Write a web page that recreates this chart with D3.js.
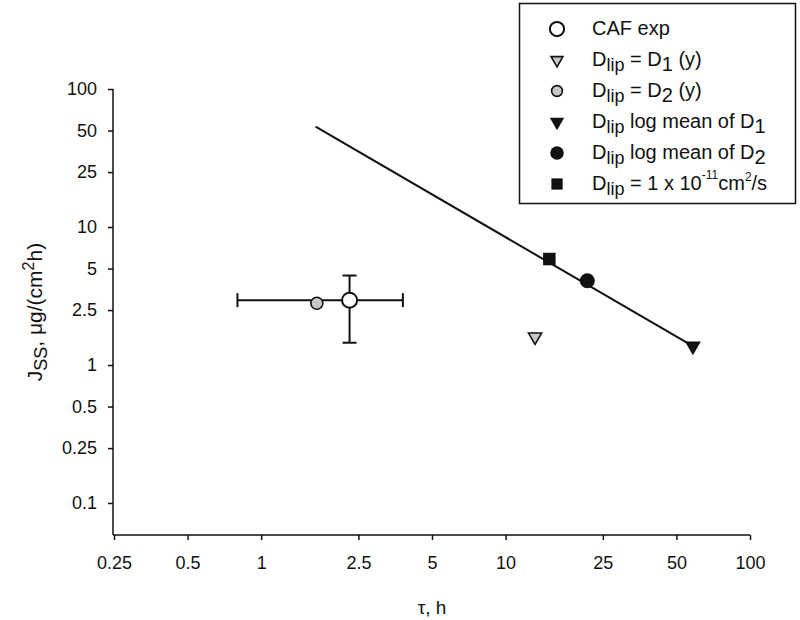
<!DOCTYPE html>
<html>
<head>
<meta charset="utf-8">
<script src="https://cdn.jsdelivr.net/npm/d3@7/dist/d3.min.js"></script>
<style>
  html, body { margin: 0; padding: 0; background: #fff; }
  svg text { font-family: "Liberation Sans", Arial, sans-serif; fill: #111; }
</style>
</head>
<body>
<svg id="chart" width="800" height="620"></svg>
<script>
// ---- data ----
const xTicks = [0.25, 0.5, 1, 2.5, 5, 10, 25, 50, 100];
const yTicks = [0.1, 0.25, 0.5, 1, 2.5, 5, 10, 25, 50, 100];

// CAF experimental point (tau, J) with SD error bars
const cafExp = [{ x: 2.3, y: 2.95, xerr: 1.5, yerr: 1.5 }];
// D_lip = D1 (y)
const d1y = [{ x: 13.2, y: 1.6 }];
// D_lip = D2 (y)
const d2y = [{ x: 1.69, y: 2.8 }];
// D_lip log mean of D1
const d1mean = [{ x: 58.4, y: 1.37 }];
// D_lip log mean of D2
const d2mean = [{ x: 21.6, y: 4.08 }];
// D_lip = 1e-11 cm2/s
const dFixed = [{ x: 15.1, y: 5.86 }];
// fitted line
const lineX = [1.67, 58.4];
const lineY = [53.3, 1.37];

// ---- layout ----
const svg = d3.select("#chart");
const x = d3.scaleLog().domain([0.25, 100]).range([114, 750]);
const y = d3.scaleLog().domain([0.1, 100]).range([503, 89]);
const axisY = 535; // x-axis baseline
const axisX = 113; // y-axis line

const ink = "#111";
const FONT = "Liberation Sans, Arial, sans-serif";

// axes
const gx = svg.append("g").attr("transform", `translate(0,${axisY})`)
  .call(d3.axisBottom(x).tickValues(xTicks).tickFormat(d3.format("")).tickSize(5).tickSizeOuter(0).tickPadding(16));
gx.select(".domain").remove();
gx.append("line").attr("x1", axisX).attr("x2", x(100)).attr("y1", 0).attr("y2", 0)
  .attr("stroke", ink).attr("stroke-width", 1.5);

const gy = svg.append("g").attr("transform", `translate(${axisX},0)`)
  .call(d3.axisLeft(y).tickValues(yTicks).tickFormat(d3.format("")).tickSize(5).tickSizeOuter(0).tickPadding(11));
gy.select(".domain").remove();
gy.append("line").attr("x1", 0).attr("x2", 0).attr("y1", y(100)).attr("y2", axisY)
  .attr("stroke", ink).attr("stroke-width", 1.5);

[gx, gy].forEach(g => {
  g.selectAll(".tick line").attr("stroke", ink).attr("stroke-width", 1.5);
  g.selectAll(".tick text").attr("font-size", 18).attr("fill", ink).attr("font-family", FONT);
});

// axis titles
svg.append("text").attr("x", (x(0.25) + x(100)) / 2).attr("y", 614)
  .attr("text-anchor", "middle").attr("font-size", 19).text("τ, h");

const yt = svg.append("text").attr("transform", `translate(42,${(89 + axisY) / 2}) rotate(-90)`)
  .attr("text-anchor", "middle").attr("font-size", 21);
yt.append("tspan").text("J");
yt.append("tspan").attr("dy", 5).attr("font-size", 18).text("SS");
yt.append("tspan").attr("dy", -5).text(", μg/(cm");
yt.append("tspan").attr("dy", -8).attr("font-size", 16).text("2");
yt.append("tspan").attr("dy", 8).text("h)");

// fitted line
const lineData = lineX.map((v, i) => [v, lineY[i]]);
svg.append("path").datum(lineData)
  .attr("d", d3.line().x(d => x(d[0])).y(d => y(d[1])))
  .attr("fill", "none").attr("stroke", ink).attr("stroke-width", 2);

// error bars
const eb = svg.append("g").attr("stroke", ink).attr("stroke-width", 2);
cafExp.forEach(d => {
  const cx = x(d.x), cy = y(d.y);
  const xl = x(d.x - d.xerr), xr = x(d.x + d.xerr);
  const yt2 = y(d.y + d.yerr), yb = y(d.y - d.yerr);
  eb.append("line").attr("x1", xl).attr("x2", xr).attr("y1", cy).attr("y2", cy);
  eb.append("line").attr("x1", xl).attr("x2", xl).attr("y1", cy - 7).attr("y2", cy + 7);
  eb.append("line").attr("x1", xr).attr("x2", xr).attr("y1", cy - 7).attr("y2", cy + 7);
  eb.append("line").attr("x1", cx).attr("x2", cx).attr("y1", yt2).attr("y2", yb);
  eb.append("line").attr("x1", cx - 7).attr("x2", cx + 7).attr("y1", yt2).attr("y2", yt2);
  eb.append("line").attr("x1", cx - 7).attr("x2", cx + 7).attr("y1", yb).attr("y2", yb);
});

// marker shapes
const tri = d3.symbol().type(d3.symbolTriangle);
function drawMarker(g, kind, cx, cy, scale) {
  scale = scale || 1;
  if (kind === "openCircle") {
    g.append("circle").attr("cx", cx).attr("cy", cy).attr("r", 7.5 * scale)
      .attr("fill", "#fff").attr("stroke", ink).attr("stroke-width", 2);
  } else if (kind === "greyCircle") {
    g.append("circle").attr("cx", cx).attr("cy", cy).attr("r", 6 * scale)
      .attr("fill", "#c8c8c8").attr("stroke", ink).attr("stroke-width", 1.6);
  } else if (kind === "greyTri") {
    g.append("path").attr("d", tri.size(75 * scale * scale)())
      .attr("transform", `translate(${cx},${cy}) rotate(180)`)
      .attr("fill", "#c8c8c8").attr("stroke", ink).attr("stroke-width", 1.6);
  } else if (kind === "blackTri") {
    g.append("path").attr("d", tri.size(110 * scale * scale)())
      .attr("transform", `translate(${cx},${cy}) rotate(180)`)
      .attr("fill", ink);
  } else if (kind === "blackCircle") {
    g.append("circle").attr("cx", cx).attr("cy", cy).attr("r", 7.5 * scale).attr("fill", ink);
  } else if (kind === "blackSquare") {
    const s = 12.5 * scale;
    g.append("rect").attr("x", cx - s / 2).attr("y", cy - s / 2).attr("width", s).attr("height", s).attr("fill", ink);
  }
}

const pts = svg.append("g");
[
  [d1mean, "blackTri"], [d2mean, "blackCircle"], [dFixed, "blackSquare"],
  [d1y, "greyTri"], [d2y, "greyCircle"], [cafExp, "openCircle"]
].forEach(([arr, kind]) => arr.forEach(d => drawMarker(pts, kind, x(d.x), y(d.y))));

// legend
const lg = svg.append("g");
lg.append("rect").attr("x", 519.5).attr("y", 3.5).attr("width", 276).attr("height", 200)
  .attr("fill", "#fff").attr("stroke", ink).attr("stroke-width", 1.5);

const legendItems = [
  { kind: "openCircle", parts: [["CAF exp", 0, 20]] },
  { kind: "greyTri", parts: [["D", 0, 20], ["lip", 5, 18], [" = D", -5, 20], ["1", 5, 20], [" (y)", -5, 20]] },
  { kind: "greyCircle", parts: [["D", 0, 20], ["lip", 5, 18], [" = D", -5, 20], ["2", 5, 20], [" (y)", -5, 20]] },
  { kind: "blackTri", parts: [["D", 0, 20], ["lip", 5, 18], [" log mean of D", -5, 20], ["1", 5, 20]] },
  { kind: "blackCircle", parts: [["D", 0, 20], ["lip", 5, 18], [" log mean of D", -5, 20], ["2", 5, 20]] },
  { kind: "blackSquare", parts: [["D", 0, 20], ["lip", 5, 18], [" = 1 x 10", -5, 20], ["-11", -11, 12], ["cm", 11, 20], ["2", -9, 12], ["/s", 9, 20]] }
];
legendItems.forEach((it, i) => {
  const cy = 29 + i * 31;
  drawMarker(lg, it.kind, 557, cy, it.kind === "openCircle" ? 0.95 : 0.9);
  const t = lg.append("text").attr("x", 592).attr("y", cy + 6).attr("font-size", 20);
  it.parts.forEach(([s, dy, fs]) => {
    t.append("tspan").attr("dy", dy).attr("font-size", fs).text(s);
  });
});
</script>
</body>
</html>
